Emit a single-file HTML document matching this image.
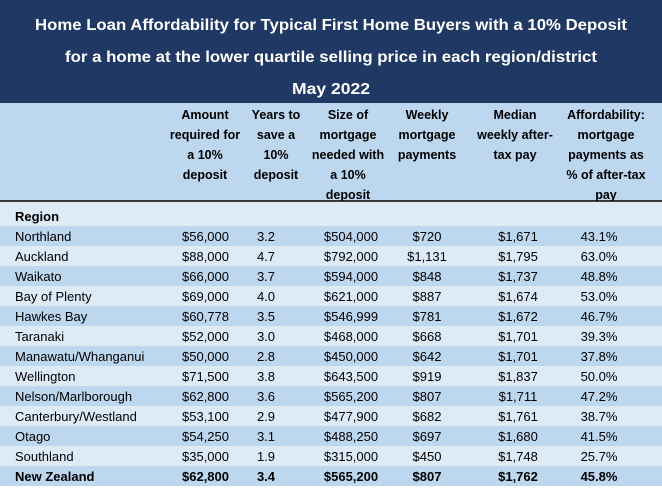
<!DOCTYPE html>
<html><head><meta charset="utf-8"><style>
html,body{margin:0;padding:0;background:#fff;}
svg{display:block;font-family:"Liberation Sans",Arial,sans-serif;}
</style></head><body>
<svg id="tbl" width="662" height="488" viewBox="0 0 662 488">
<rect x="0" y="0" width="662" height="103" fill="#203864"/>
<text x="331" y="30" text-anchor="middle" fill="#fff" font-weight="bold" font-size="16" textLength="592" lengthAdjust="spacingAndGlyphs">Home Loan Affordability for Typical First Home Buyers with a 10% Deposit</text>
<text x="331" y="62" text-anchor="middle" fill="#fff" font-weight="bold" font-size="16" textLength="532" lengthAdjust="spacingAndGlyphs">for a home at the lower quartile selling price in each region/district</text>
<text x="331" y="94" text-anchor="middle" fill="#fff" font-weight="bold" font-size="16" textLength="78" lengthAdjust="spacingAndGlyphs">May 2022</text>
<rect x="0" y="103" width="662" height="98" fill="#bdd7ee"/>
<line x1="0" y1="201" x2="662" y2="201" stroke="#000" stroke-width="1.5"/>
<rect x="0" y="202" width="662" height="24" fill="#ddebf7"/>
<text x="15" y="221" font-weight="bold" font-size="13" fill="#000">Region</text>
<g id="hdr"></g>
<g id="rows"></g>
</svg>
<script>
const headers=[["Amount","required for","a 10%","deposit"],["Years to","save a","10%","deposit"],["Size of","mortgage","needed with","a 10%","deposit"],["Weekly","mortgage","payments"],["Median","weekly after-","tax pay"],["Affordability:","mortgage","payments as","% of after-tax","pay"]];
const regions=["Northland","Auckland","Waikato","Bay of Plenty","Hawkes Bay","Taranaki","Manawatu/Whanganui","Wellington","Nelson/Marlborough","Canterbury/Westland","Otago","Southland","New Zealand"];
const deposit=["$56,000","$88,000","$66,000","$69,000","$60,778","$52,000","$50,000","$71,500","$62,800","$53,100","$54,250","$35,000","$62,800"];
const years=["3.2","4.7","3.7","4.0","3.5","3.0","2.8","3.8","3.6","2.9","3.1","1.9","3.4"];
const mortgage=["$504,000","$792,000","$594,000","$621,000","$546,999","$468,000","$450,000","$643,500","$565,200","$477,900","$488,250","$315,000","$565,200"];
const weekly=["$720","$1,131","$848","$887","$781","$668","$642","$919","$807","$682","$697","$450","$807"];
const pay=["$1,671","$1,795","$1,737","$1,674","$1,672","$1,701","$1,701","$1,837","$1,711","$1,761","$1,680","$1,748","$1,762"];
const afford=["43.1%","63.0%","48.8%","53.0%","46.7%","39.3%","37.8%","50.0%","47.2%","38.7%","41.5%","25.7%","45.8%"];
const NS="http://www.w3.org/2000/svg";
const hdrX=[205,276,348,427,515,606];
const hg=document.getElementById('hdr');
headers.forEach((lines,i)=>{lines.forEach((l,j)=>{
 const t=document.createElementNS(NS,'text');
 t.setAttribute('x',hdrX[i]);t.setAttribute('y',119+j*20);
 t.setAttribute('text-anchor','middle');t.setAttribute('font-weight','bold');t.setAttribute('font-size','12.5');
 
 
 t.textContent=l;hg.appendChild(t);});});
const cols=[[deposit,229,'end'],[years,266,'middle'],[mortgage,351,'middle'],[weekly,427,'middle'],[pay,518,'middle'],[afford,599,'middle']];
const rg=document.getElementById('rows');
regions.forEach((r,i)=>{
 const y=226+i*20;
 const rect=document.createElementNS(NS,'rect');
 rect.setAttribute('x',0);rect.setAttribute('y',y);rect.setAttribute('width',662);rect.setAttribute('height',20);
 rect.setAttribute('fill',i%2===0?'#bdd7ee':'#ddebf7');
 
 
 rg.appendChild(rect);
 const bold=(i===regions.length-1);
 const lt=document.createElementNS(NS,'text');
 lt.setAttribute('x',15);lt.setAttribute('y',y+15);lt.setAttribute('font-size','13');
 if(bold)lt.setAttribute('font-weight','bold');
 
 
 lt.textContent=r;rg.appendChild(lt);
 cols.forEach(([arr,x,anc])=>{
  const t=document.createElementNS(NS,'text');
  t.setAttribute('x',x);t.setAttribute('y',y+15);t.setAttribute('font-size','13');t.setAttribute('text-anchor',anc);
  if(bold)t.setAttribute('font-weight','bold');
  
  
  t.textContent=arr[i];rg.appendChild(t);});
});
</script>
</body></html>
